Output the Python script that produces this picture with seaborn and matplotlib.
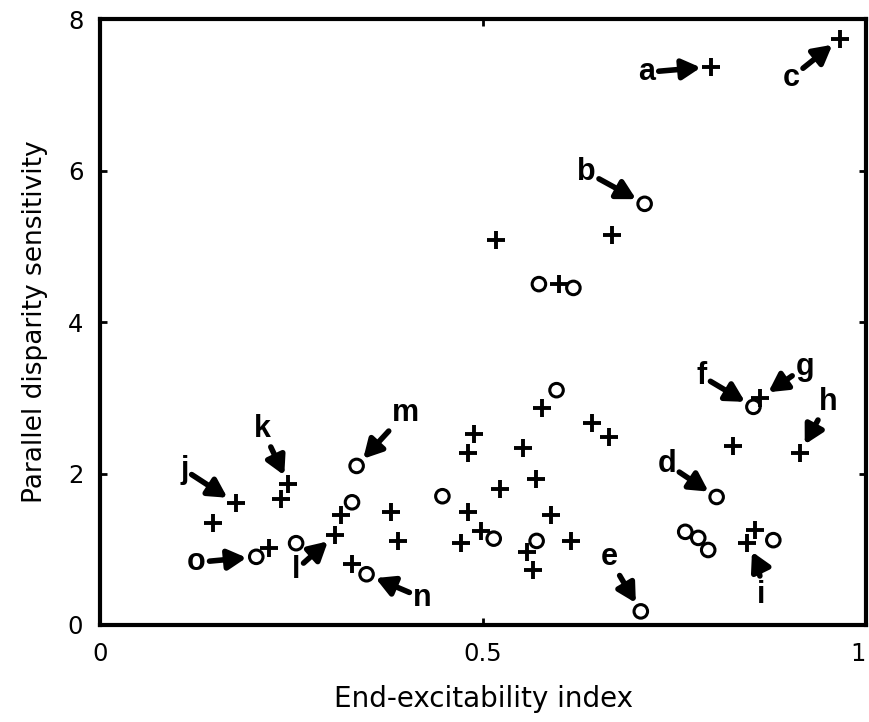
import matplotlib

matplotlib.use("Agg")

import matplotlib.pyplot as plt  # noqa: E402
import pandas as pd  # noqa: E402
import seaborn as sns  # noqa: E402

# cells drawn as "+"
plus_x = [0.797, 0.966, 0.517, 0.669, 0.599, 0.577, 0.642, 0.665, 0.488, 0.480,
          0.552, 0.569, 0.522, 0.380, 0.480, 0.589, 0.389, 0.471, 0.497, 0.557,
          0.565, 0.615, 0.246, 0.236, 0.177, 0.148, 0.220, 0.307, 0.315, 0.329,
          0.862, 0.914, 0.827, 0.855, 0.845]
plus_y = [7.37, 7.74, 5.08, 5.15, 4.50, 2.86, 2.67, 2.48, 2.52, 2.27,
          2.34, 1.93, 1.80, 1.49, 1.49, 1.45, 1.11, 1.08, 1.24, 0.96,
          0.73, 1.11, 1.86, 1.66, 1.61, 1.35, 1.02, 1.19, 1.45, 0.81,
          3.00, 2.27, 2.36, 1.25, 1.08]
plus_tag = ["a", "c", "", "", "", "", "", "", "", "",
            "", "", "", "", "", "", "", "", "", "",
            "", "", "k", "", "j", "", "", "l", "", "",
            "g", "h", "", "", "i"]

# cells drawn as "o"
circ_x = [0.711, 0.573, 0.618, 0.596, 0.447, 0.514, 0.570, 0.706, 0.204, 0.256,
          0.329, 0.335, 0.348, 0.853, 0.805, 0.764, 0.781, 0.794, 0.879]
circ_y = [5.56, 4.50, 4.45, 3.10, 1.70, 1.14, 1.11, 0.18, 0.90, 1.08,
          1.62, 2.10, 0.67, 2.88, 1.69, 1.23, 1.15, 0.99, 1.12]
circ_tag = ["b", "", "", "", "", "", "", "e", "o", "",
            "", "m", "n", "f", "d", "", "", "", ""]

x_ticks = [0, 0.5, 1]
x_tick_labels = ["0", "0.5", "1"]
y_ticks = [0, 2, 4, 6, 8]

# letter placement relative to its cell, in points (dx, dy)
tag_offset = {
    "a": (-46, -4), "b": (-42, 23), "c": (-35, -28), "d": (-36, 24),
    "e": (-23, 39), "f": (-37, 22), "g": (32, 22), "h": (20, 37),
    "i": (10, -37), "j": (-37, 24), "k": (-19, 40), "l": (-28, -25),
    "m": (35, 38), "n": (40, -17), "o": (-43, -4),
}

df = pd.concat([
    pd.DataFrame({"x": plus_x, "y": plus_y, "tag": plus_tag, "kind": "plus"}),
    pd.DataFrame({"x": circ_x, "y": circ_y, "tag": circ_tag, "kind": "circle"}),
], ignore_index=True)

sns.set_style("ticks")
plt.rcParams["font.family"] = ["DejaVu Sans"]
plt.rcParams.update({"text.color": "k", "axes.labelcolor": "k",
                     "xtick.color": "k", "ytick.color": "k"})

fig = plt.figure(figsize=(8.69, 7.22), dpi=100)
ax = fig.add_axes([100 / 869, 97 / 722, 766 / 869, 606 / 722])

sns.scatterplot(data=df[df["kind"] == "plus"], x="x", y="y", marker="+",
                s=13 ** 2, color="k", linewidth=2.8, legend=False, ax=ax)
sns.scatterplot(data=df[df["kind"] == "circle"], x="x", y="y", marker="o",
                s=95, color="k", facecolor="none", edgecolor="k",
                linewidth=2.2, legend=False, ax=ax)

for _, row in df[df["tag"] != ""].iterrows():
    conn = "arc3,rad=0.15" if row["tag"] == "i" else "arc3"
    ax.annotate(
        row["tag"],
        xy=(row["x"], row["y"]),
        xytext=tag_offset[row["tag"]],
        textcoords="offset points",
        ha="center", va="center",
        fontsize=22, fontweight="bold",
        family=["Liberation Sans", "DejaVu Sans"],
        bbox=dict(boxstyle="square,pad=0.05", fc="none", ec="none"),
        arrowprops=dict(arrowstyle="-|>,head_length=0.55,head_width=0.3",
                        color="k", lw=4, shrinkA=1.5, shrinkB=7,
                        mutation_scale=20, connectionstyle=conn),
    )

ax.set_xlim(0, 1)
ax.set_ylim(0, 8)
ax.set_xticks(x_ticks)
ax.set_xticklabels(x_tick_labels)
ax.get_xticklabels()[-1].set_ha("right")
ax.set_yticks(y_ticks)
ax.tick_params(direction="in", length=5, width=2, top=True, right=True,
               labelsize=17.5, pad=12, color="k")
for spine in ax.spines.values():
    spine.set_linewidth(3)
    spine.set_color("k")

ax.set_xlabel("End-excitability index", fontsize=20, labelpad=14)
ax.set_ylabel("Parallel disparity sensitivity", fontsize=19, labelpad=14)

fig.savefig("out.png", dpi=100)
plt.close(fig)
